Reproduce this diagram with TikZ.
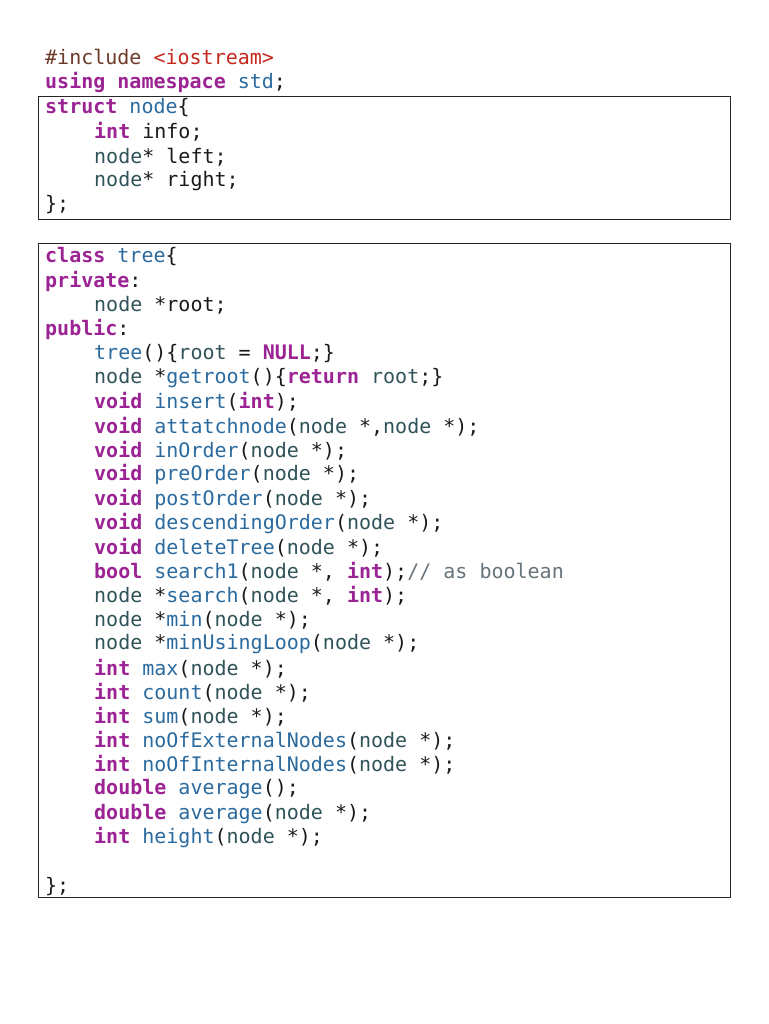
\documentclass[tikz,border=0pt]{standalone}
\usepackage{fontspec}
\setmonofont{DejaVu Sans Mono}
\definecolor{kw}{HTML}{9B2393}
\definecolor{fn}{HTML}{2A6A9E}
\definecolor{ty}{HTML}{2F5358}
\definecolor{tx}{HTML}{1A1A1A}
\definecolor{cm}{HTML}{66737A}
\definecolor{inc}{HTML}{6B3A28}
\definecolor{str}{HTML}{C4281C}
\newcommand\kw[1]{\textcolor{kw}{\textbf{#1}}}
\newcommand\fn[1]{\textcolor{fn}{#1}}
\newcommand\ty[1]{\textcolor{ty}{#1}}
\newcommand\np{\ty{node} *}
\begin{document}
\begin{tikzpicture}[x=1pt,y=-1pt,
  code/.style={anchor=west,inner sep=0pt,font=\ttfamily\fontsize{20}{24}\selectfont,text=tx},
  box/.style={draw=black!85,line width=0.9pt}]
\useasboundingbox (0,0) rectangle (768,1024);
\draw[box] (38,96) rectangle (730,219);
\draw[box] (38,243) rectangle (730,897);
\node[code] (a1) at (45,57) {\textcolor{inc}{\#include} \textcolor{str}{<iostream>}};
\node[code] (a2) at (45,82) {\kw{using} \kw{namespace} \fn{std};};
\node[code] (s0) at (45,108) {\kw{struct} \fn{node}\{};
\node[code] (s1) at (94,132) {\kw{int} info;};
\node[code] (s2) at (94,157) {\ty{node}* left;};
\node[code] (s3) at (94,181) {\ty{node}* right;};
\node[code] (s4) at (45,205) {\};};
\def\ly#1{\fpeval{257+#1*24.2}}
\node[code] (c0) at (45,\ly{0}) {\kw{class} \fn{tree}\{};
\node[code] (c1) at (45,\ly{1}) {\kw{private}:};
\node[code] (c2) at (94,\ly{2}) {\ty{node} *root;};
\node[code] (c3) at (45,\ly{3}) {\kw{public}:};
\node[code] (c4) at (94,\ly{4}) {\fn{tree}()\{\ty{root} = \kw{NULL};\}};
\node[code] (c5) at (94,\ly{5}) {\ty{node} *\fn{getroot}()\{\kw{return} \ty{root};\}};
\node[code] (c6) at (94,\ly{6}) {\kw{void} \fn{insert}(\kw{int});};
\node[code] (c7) at (94,\ly{7}) {\kw{void} \fn{attatchnode}(\np,\np);};
\node[code] (c8) at (94,\ly{8}) {\kw{void} \fn{inOrder}(\np);};
\node[code] (c9) at (94,\ly{9}) {\kw{void} \fn{preOrder}(\np);};
\node[code] (c10) at (94,\ly{10}) {\kw{void} \fn{postOrder}(\np);};
\node[code] (c11) at (94,\ly{11}) {\kw{void} \fn{descendingOrder}(\np);};
\node[code] (c12) at (94,\ly{12}) {\kw{void} \fn{deleteTree}(\np);};
\node[code] (c13) at (94,\ly{13}) {\kw{bool} \fn{search1}(\np, \kw{int});\textcolor{cm}{// as boolean}};
\node[code] (c14) at (94,\ly{14}) {\ty{node} *\fn{search}(\np, \kw{int});};
\node[code] (c15) at (94,\ly{15}) {\ty{node} *\fn{min}(\np);};
\node[code] (c16) at (94,\ly{16}) {\ty{node} *\fn{minUsingLoop}(\np);};
\node[code] (c17) at (94,\ly{17}) {\kw{int} \fn{max}(\np);};
\node[code] (c18) at (94,\ly{18}) {\kw{int} \fn{count}(\np);};
\node[code] (c19) at (94,\ly{19}) {\kw{int} \fn{sum}(\np);};
\node[code] (c20) at (94,\ly{20}) {\kw{int} \fn{noOfExternalNodes}(\np);};
\node[code] (c21) at (94,\ly{21}) {\kw{int} \fn{noOfInternalNodes}(\np);};
\node[code] (c22) at (94,\ly{22}) {\kw{double} \fn{average}();};
\node[code] (c23) at (94,\ly{23}) {\kw{double} \fn{average}(\np);};
\node[code] (c24) at (94,\ly{24}) {\kw{int} \fn{height}(\np);};
\node[code] (c26) at (45,\ly{26}) {\};};
\end{tikzpicture}
\end{document}
